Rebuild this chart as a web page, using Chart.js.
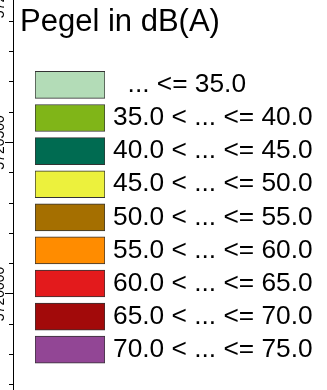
<!DOCTYPE html>
<html><head><meta charset="utf-8">
<script src="https://cdn.jsdelivr.net/npm/chart.js@4/dist/chart.umd.min.js"></script>
<style>
html,body{margin:0;padding:0;background:#fff;width:327px;height:390px;overflow:hidden;position:relative}
#axisCanvas{position:absolute;left:-40px;top:-40px}
#legendCanvas{position:absolute;left:20px;top:0}
</style></head><body>
<canvas id="axisCanvas" width="60" height="470"></canvas>
<canvas id="legendCanvas" width="307" height="390"></canvas>
<script>
// ---- legend data ----
const legendTitle = 'Pegel in dB(A)';
const classLabels = ['  ... <= 35.0', '35.0 < ... <= 40.0', '40.0 < ... <= 45.0', '45.0 < ... <= 50.0',
  '50.0 < ... <= 55.0', '55.0 < ... <= 60.0', '60.0 < ... <= 65.0', '65.0 < ... <= 70.0', '70.0 < ... <= 75.0'];
const classColors = ['#b3dcb7', '#80b518', '#006b51', '#ecf13d', '#a56f00', '#ff8c00', '#e31a1c', '#a20a0a', '#924695'];
const swatchExtent = [1, 1, 1, 1, 1, 1, 1, 1, 1];
// ---- map frame axis (northing) ----
const northingMin = 5719551;
const northingMax = 5721102;
const northingStep = 100;
const northingLabelStep = 500;

const FONT = 'Liberation Sans, Arial, sans-serif';

new Chart(document.getElementById('axisCanvas'), {
  type: 'line',
  data: { datasets: [] },
  options: {
    responsive: false, animation: false,
    layout: { padding: 0 },
    plugins: { legend: { display: false }, tooltip: { enabled: false } },
    scales: {
      x: { type: 'linear', display: false },
      y: {
        type: 'linear', position: 'left', min: northingMin, max: northingMax,
        afterFit: s => { s.width = 53; },
        border: { display: true, color: '#000', width: 1 },
        grid: {
          drawOnChartArea: false, tickLength: 8, tickColor: '#000', tickWidth: 1,
          tickBorderDash: c => (c.tick && c.tick.value % northingLabelStep === 0) ? [] : [0, 4, 8]
        },
        ticks: {
          stepSize: northingStep, includeBounds: false, autoSkip: false,
          minRotation: 90, maxRotation: 90, crossAlign: 'center', padding: -22,
          color: '#000', font: { family: FONT, size: 14 },
          callback: v => (v % northingLabelStep === 0 ? String(v) : '')
        }
      }
    }
  }
});

new Chart(document.getElementById('legendCanvas'), {
  type: 'bar',
  data: {
    labels: classLabels,
    datasets: [{
      data: swatchExtent, backgroundColor: classColors, borderColor: '#333',
      borderWidth: 1, borderSkipped: false, barThickness: 27, xAxisID: 'x', yAxisID: 'y'
    }]
  },
  options: {
    indexAxis: 'y', responsive: false, animation: false,
    layout: { padding: { left: 0, right: 0, top: 0, bottom: 4.4 } },
    plugins: {
      legend: { display: false }, tooltip: { enabled: false },
      title: {
        display: true, text: legendTitle, align: 'start', color: '#000',
        font: { family: FONT, size: 31, weight: 'normal', lineHeight: 1.2 },
        padding: { top: 4.1, bottom: 27.1 }
      }
    },
    scales: {
      x: { type: 'linear', min: 0, max: 1, display: false },
      y: {
        type: 'category', position: 'right',
        grid: { display: false, drawTicks: false }, border: { display: false },
        afterFit: s => { s.width = 222; },
        ticks: { autoSkip: false, padding: 8, color: '#000', font: { family: FONT, size: 26.3 }, crossAlign: 'near' }
      },
      gap: {
        type: 'linear', position: 'left', display: true,
        grid: { display: false, drawTicks: false }, border: { display: false }, ticks: { display: false },
        afterFit: s => { s.width = 15; }
      }
    }
  }
});
</script>
</body></html>
